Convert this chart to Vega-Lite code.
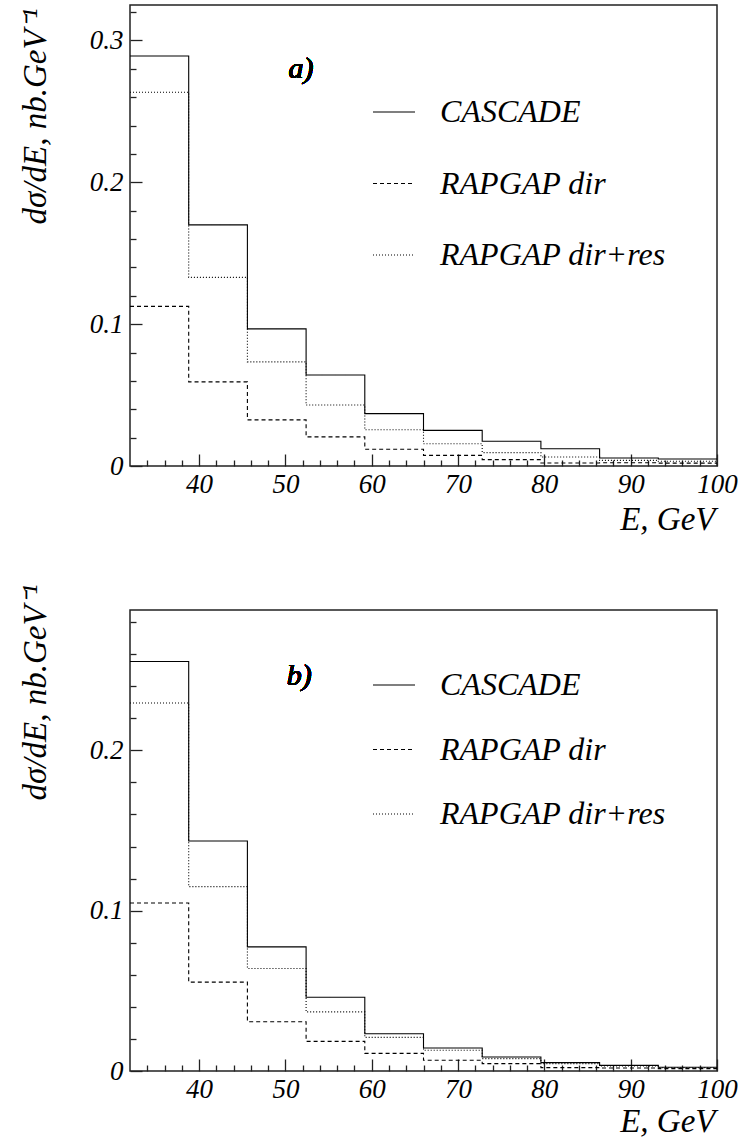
{
  "$schema": "https://vega.github.io/schema/vega-lite/v6.json",
  "padding": {"left": 18, "top": 4, "right": 0, "bottom": 0},
  "background": "white",
  "bounds": "flush",
  "spacing": 144,
  "config": {
    "view": {"stroke": "#222", "strokeWidth": 1.5},
    "font": "Liberation Serif, Times New Roman, serif",
    "axis": {"grid": false, "domain": false, "tickColor": "#222", "tickWidth": 1.3, "labelColor": "#000", "titleColor": "#000", "labelFlush": false, "labelOverlap": false, "labelFont": "Liberation Serif, Times New Roman, serif", "titleFont": "Liberation Serif, Times New Roman, serif", "labelFontStyle": "italic", "titleFontStyle": "italic", "titleFontWeight": "normal", "labelFontSize": 27, "titleFontSize": 33},
    "legend": {"labelFont": "Liberation Serif, Times New Roman, serif", "labelFontStyle": "italic", "labelFontSize": 32, "labelColor": "#000", "labelLimit": 400, "padding": 0}
  },
  "datasets": {
    "a": [
      {"model": "CASCADE", "E": 32, "v": 0.289},
      {"model": "CASCADE", "E": 38.8, "v": 0.170},
      {"model": "CASCADE", "E": 45.6, "v": 0.0967},
      {"model": "CASCADE", "E": 52.4, "v": 0.0642},
      {"model": "CASCADE", "E": 59.2, "v": 0.0369},
      {"model": "CASCADE", "E": 66, "v": 0.0251},
      {"model": "CASCADE", "E": 72.8, "v": 0.0174},
      {"model": "CASCADE", "E": 79.6, "v": 0.0122},
      {"model": "CASCADE", "E": 86.4, "v": 0.0056},
      {"model": "CASCADE", "E": 93.2, "v": 0.0049},
      {"model": "CASCADE", "E": 100, "v": 0.0049},
      {"model": "RAPGAP dir", "E": 32, "v": 0.1125},
      {"model": "RAPGAP dir", "E": 38.8, "v": 0.0593},
      {"model": "RAPGAP dir", "E": 45.6, "v": 0.0325},
      {"model": "RAPGAP dir", "E": 52.4, "v": 0.0205},
      {"model": "RAPGAP dir", "E": 59.2, "v": 0.0118},
      {"model": "RAPGAP dir", "E": 66, "v": 0.0075},
      {"model": "RAPGAP dir", "E": 72.8, "v": 0.0045},
      {"model": "RAPGAP dir", "E": 79.6, "v": 0.0021},
      {"model": "RAPGAP dir", "E": 86.4, "v": 0.0023},
      {"model": "RAPGAP dir", "E": 93.2, "v": 0.0020},
      {"model": "RAPGAP dir", "E": 100, "v": 0.0020},
      {"model": "RAPGAP dir+res", "E": 32, "v": 0.2635},
      {"model": "RAPGAP dir+res", "E": 38.8, "v": 0.133},
      {"model": "RAPGAP dir+res", "E": 45.6, "v": 0.0734},
      {"model": "RAPGAP dir+res", "E": 52.4, "v": 0.043},
      {"model": "RAPGAP dir+res", "E": 59.2, "v": 0.0256},
      {"model": "RAPGAP dir+res", "E": 66, "v": 0.0157},
      {"model": "RAPGAP dir+res", "E": 72.8, "v": 0.0094},
      {"model": "RAPGAP dir+res", "E": 79.6, "v": 0.0063},
      {"model": "RAPGAP dir+res", "E": 86.4, "v": 0.0040},
      {"model": "RAPGAP dir+res", "E": 93.2, "v": 0.0033},
      {"model": "RAPGAP dir+res", "E": 100, "v": 0.0033}
    ],
    "b": [
      {"model": "CASCADE", "E": 32, "v": 0.2554},
      {"model": "CASCADE", "E": 38.8, "v": 0.1434},
      {"model": "CASCADE", "E": 45.6, "v": 0.0774},
      {"model": "CASCADE", "E": 52.4, "v": 0.046},
      {"model": "CASCADE", "E": 59.2, "v": 0.0232},
      {"model": "CASCADE", "E": 66, "v": 0.0143},
      {"model": "CASCADE", "E": 72.8, "v": 0.0087},
      {"model": "CASCADE", "E": 79.6, "v": 0.0052},
      {"model": "CASCADE", "E": 86.4, "v": 0.0035},
      {"model": "CASCADE", "E": 93.2, "v": 0.0023},
      {"model": "CASCADE", "E": 100, "v": 0.0023},
      {"model": "RAPGAP dir", "E": 32, "v": 0.1048},
      {"model": "RAPGAP dir", "E": 38.8, "v": 0.0554},
      {"model": "RAPGAP dir", "E": 45.6, "v": 0.0307},
      {"model": "RAPGAP dir", "E": 52.4, "v": 0.0185},
      {"model": "RAPGAP dir", "E": 59.2, "v": 0.011},
      {"model": "RAPGAP dir", "E": 66, "v": 0.0067},
      {"model": "RAPGAP dir", "E": 72.8, "v": 0.0046},
      {"model": "RAPGAP dir", "E": 79.6, "v": 0.0021},
      {"model": "RAPGAP dir", "E": 86.4, "v": 0.0019},
      {"model": "RAPGAP dir", "E": 93.2, "v": 0.0015},
      {"model": "RAPGAP dir", "E": 100, "v": 0.0015},
      {"model": "RAPGAP dir+res", "E": 32, "v": 0.2295},
      {"model": "RAPGAP dir+res", "E": 38.8, "v": 0.115},
      {"model": "RAPGAP dir+res", "E": 45.6, "v": 0.0639},
      {"model": "RAPGAP dir+res", "E": 52.4, "v": 0.0369},
      {"model": "RAPGAP dir+res", "E": 59.2, "v": 0.021},
      {"model": "RAPGAP dir+res", "E": 66, "v": 0.0129},
      {"model": "RAPGAP dir+res", "E": 72.8, "v": 0.0077},
      {"model": "RAPGAP dir+res", "E": 79.6, "v": 0.0046},
      {"model": "RAPGAP dir+res", "E": 86.4, "v": 0.0031},
      {"model": "RAPGAP dir+res", "E": 93.2, "v": 0.0020},
      {"model": "RAPGAP dir+res", "E": 100, "v": 0.0020}
    ]
  },
  "vconcat": [
    {
      "width": 587,
      "height": 461,
      "data": {"name": "a"},
      "resolve": {"axis": {"x": "independent", "y": "independent"}},
      "layer": [
        {
          "mark": {"type": "line", "interpolate": "step-after", "color": "#000", "strokeWidth": 1.1},
          "encoding": {
            "x": {"field": "E", "type": "quantitative", "scale": {"domain": [32, 100], "nice": false, "zero": false},
              "axis": {"values": [40, 50, 60, 70, 80, 90, 100], "tickSize": -12, "labelPadding": 17, "title": "E, GeV", "titleAnchor": "end", "titleAlign": "right", "titleX": 585, "titleY": 63, "titleBaseline": "alphabetic"}},
            "y": {"field": "v", "type": "quantitative", "scale": {"domain": [0, 0.325], "nice": false},
              "axis": {"values": [0, 0.1, 0.2, 0.3], "format": "~g", "tickSize": -12, "labelPadding": 19, "title": "dσ/dE, nb.GeV⁻¹", "titleAngle": -90, "titleX": -85, "titleY": 111, "titleAlign": "center", "titleBaseline": "alphabetic", "titleFontSize": 33}},
            "strokeDash": {"field": "model", "type": "nominal",
              "scale": {"domain": ["CASCADE", "RAPGAP dir", "RAPGAP dir+res"], "range": [[1, 0], [4, 3], [1, 2]]},
              "legend": {"orient": "none", "legendX": 242, "legendY": 85, "title": null, "symbolType": "stroke", "symbolSize": 1764, "symbolStrokeWidth": 1.2, "symbolStrokeColor": "#000", "labelOffset": 24, "rowPadding": 33.5}}
          }
        },
        {
          "mark": {"type": "point", "opacity": 0},
          "encoding": {
            "x": {"field": "E", "type": "quantitative", "axis": {"orient": "bottom", "values": [34, 36, 38, 42, 44, 46, 48, 52, 54, 56, 58, 62, 64, 66, 68, 72, 74, 76, 78, 82, 84, 86, 88, 92, 94, 96, 98], "tickSize": -6, "labels": false, "title": null}},
            "y": {"field": "v", "type": "quantitative", "axis": {"orient": "left", "values": [0.02, 0.04, 0.06, 0.08, 0.12, 0.14, 0.16, 0.18, 0.22, 0.24, 0.26, 0.28, 0.32], "tickSize": -6, "labels": false, "title": null}}
          }
        },
        {
          "mark": {"type": "text", "text": "a)", "font": "Liberation Serif, Times New Roman, serif", "fontStyle": "italic", "fontWeight": "normal", "fontSize": 30, "align": "center", "baseline": "middle", "color": "#000"},
          "encoding": {
            "x": {"datum": 51.8, "type": "quantitative", "axis": null},
            "y": {"datum": 0.2796, "type": "quantitative", "axis": null}
          }
        }
      ]
    },
    {
      "width": 587,
      "height": 461,
      "data": {"name": "b"},
      "resolve": {"axis": {"x": "independent", "y": "independent"}},
      "layer": [
        {
          "mark": {"type": "line", "interpolate": "step-after", "color": "#000", "strokeWidth": 1.1},
          "encoding": {
            "x": {"field": "E", "type": "quantitative", "scale": {"domain": [32, 100], "nice": false, "zero": false},
              "axis": {"values": [40, 50, 60, 70, 80, 90, 100], "tickSize": -12, "labelPadding": 17, "title": "E, GeV", "titleAnchor": "end", "titleAlign": "right", "titleX": 585, "titleY": 60, "titleBaseline": "alphabetic"}},
            "y": {"field": "v", "type": "quantitative", "scale": {"domain": [0, 0.2875], "nice": false},
              "axis": {"values": [0, 0.1, 0.2], "format": "~g", "tickSize": -12, "labelPadding": 19, "title": "dσ/dE, nb.GeV⁻¹", "titleAngle": -90, "titleX": -85, "titleY": 82, "titleAlign": "center", "titleBaseline": "alphabetic", "titleFontSize": 33}},
            "strokeDash": {"field": "model", "type": "nominal",
              "scale": {"domain": ["CASCADE", "RAPGAP dir", "RAPGAP dir+res"], "range": [[1, 0], [4, 3], [1, 2]]},
              "legend": {"orient": "none", "legendX": 242, "legendY": 53, "title": null, "symbolType": "stroke", "symbolSize": 1764, "symbolStrokeWidth": 1.2, "symbolStrokeColor": "#000", "labelOffset": 24, "rowPadding": 26.5}}
          }
        },
        {
          "mark": {"type": "point", "opacity": 0},
          "encoding": {
            "x": {"field": "E", "type": "quantitative", "axis": {"orient": "bottom", "values": [34, 36, 38, 42, 44, 46, 48, 52, 54, 56, 58, 62, 64, 66, 68, 72, 74, 76, 78, 82, 84, 86, 88, 92, 94, 96, 98], "tickSize": -6, "labels": false, "title": null}},
            "y": {"field": "v", "type": "quantitative", "axis": {"orient": "left", "values": [0.02, 0.04, 0.06, 0.08, 0.12, 0.14, 0.16, 0.18, 0.22, 0.24, 0.26, 0.28], "tickSize": -6, "labels": false, "title": null}}
          }
        },
        {
          "mark": {"type": "text", "text": "b)", "font": "Liberation Serif, Times New Roman, serif", "fontStyle": "italic", "fontWeight": "normal", "fontSize": 30, "align": "center", "baseline": "middle", "color": "#000"},
          "encoding": {
            "x": {"datum": 51.6, "type": "quantitative", "axis": null},
            "y": {"datum": 0.2464, "type": "quantitative", "axis": null}
          }
        }
      ]
    }
  ],
  "resolve": {"scale": {"strokeDash": "independent"}, "legend": {"strokeDash": "independent"}}
}
